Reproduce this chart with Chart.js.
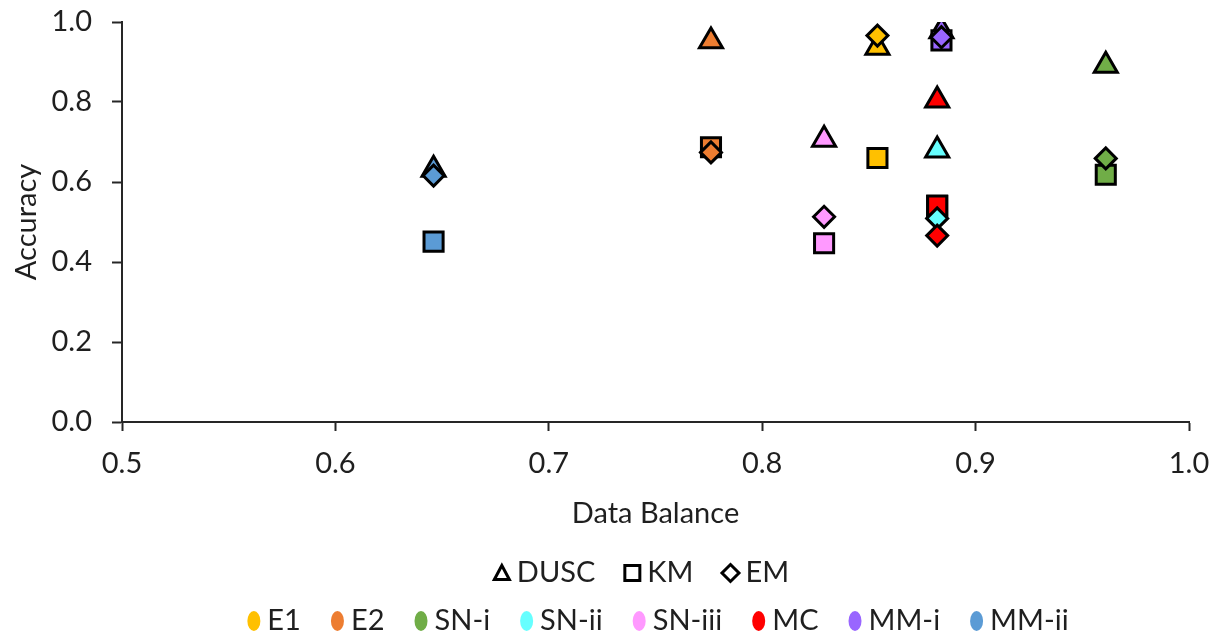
<!DOCTYPE html>
<html>
<head>
<meta charset="utf-8">
<script src="https://cdn.jsdelivr.net/npm/chart.js@4/dist/chart.umd.min.js"></script>
<style>
  html, body { margin: 0; padding: 0; background: #ffffff; }
  #wrap { width: 1218px; height: 635px; }
</style>
</head>
<body>
<div id="wrap"><canvas id="c" width="1218" height="635"></canvas></div>
<script>
// Datasets, their colours and data balance
const datasetNames  = ['E1', 'E2', 'SN-i', 'SN-ii', 'SN-iii', 'MC', 'MM-i', 'MM-ii'];
const datasetColors = ['#FFC000', '#ED7D31', '#70AD47', '#66FFFF', '#FF99FF', '#FF0000', '#9966FF', '#5B9BD5'];
const dataBalance   = [0.854, 0.776, 0.961, 0.882, 0.829, 0.882, 0.884, 0.646];

// Accuracy per method, in dataset order
const accDUSC = [0.936, 0.952, 0.891, 0.679, 0.706, 0.804, 0.977, 0.631];
const accKM   = [0.660, 0.687, 0.618, 0.540, 0.447, 0.541, 0.954, 0.451];
const accEM   = [0.966, 0.674, 0.659, 0.509, 0.513, 0.466, 0.962, 0.616];

const methodNames  = ['DUSC', 'KM', 'EM'];
const methodStyles = ['triangle', 'rect', 'rectRot'];
const methodRadius = [13.3, 13.5, 10.5];
const methodValues = [accDUSC, accKM, accEM];

// Axis tick values
const xTickValues = [0.5, 0.6, 0.7, 0.8, 0.9, 1.0];
const yTickValues = [0.0, 0.2, 0.4, 0.6, 0.8, 1.0];

const FONT = 'Lato';
const FSIZE = 29;
const TEXT = '#1f1f1f';
const AXIS = '#262626';

// Build one dataset per method/dataset pair; later entries should paint on top,
// and Chart.js paints the first dataset last, so the list is reversed.
const datasets = [];
methodNames.forEach((m, mi) => {
  datasetNames.forEach((d, di) => {
    datasets.push({
      label: m + ' ' + d,
      data: [{ x: dataBalance[di], y: methodValues[mi][di] }],
      pointStyle: methodStyles[mi],
      pointRadius: methodRadius[mi],
      backgroundColor: datasetColors[di],
      borderColor: '#000000',
      borderWidth: 3,
      showLine: false
    });
  });
});
datasets.reverse();

// Two-row legend: method shapes, then dataset colours
const legendPlugin = {
  id: 'twoRowLegend',
  afterDraw(chart) {
    const ctx = chart.ctx;
    ctx.save();
    ctx.font = FSIZE + 'px ' + FONT;
    ctx.textBaseline = 'middle';
    ctx.fillStyle = TEXT;

    // Row 1
    const r1y = 573, r1gap = 6, r1item = 28, r1icon = 18;
    let w1 = 0;
    methodNames.forEach((t, i) => {
      w1 += r1icon + r1gap + ctx.measureText(t).width + (i < methodNames.length - 1 ? r1item : 0);
    });
    let x = 641 - w1 / 2;
    methodNames.forEach((t, i) => {
      const cx = x + r1icon / 2;
      ctx.beginPath();
      ctx.lineWidth = 3;
      ctx.strokeStyle = '#000';
      ctx.lineJoin = 'miter';
      if (methodStyles[i] === 'triangle') {
        ctx.moveTo(cx, r1y - 7.5);
        ctx.lineTo(cx + 7.5, r1y + 6.5);
        ctx.lineTo(cx - 7.5, r1y + 6.5);
        ctx.closePath();
      } else if (methodStyles[i] === 'rect') {
        ctx.rect(cx - 7.5, r1y - 7.5, 15, 15);
      } else {
        ctx.moveTo(cx, r1y - 8.5);
        ctx.lineTo(cx + 8.5, r1y);
        ctx.lineTo(cx, r1y + 8.5);
        ctx.lineTo(cx - 8.5, r1y);
        ctx.closePath();
      }
      ctx.stroke();
      ctx.fillStyle = TEXT;
      ctx.textAlign = 'left';
      ctx.fillText(t, x + r1icon + r1gap, r1y);
      x += r1icon + r1gap + ctx.measureText(t).width + r1item;
    });

    // Row 2
    const r2y = 621, r2gap = 7, r2item = 30, r2icon = 13;
    let w2 = 0;
    datasetNames.forEach((t, i) => {
      w2 += r2icon + r2gap + ctx.measureText(t).width + (i < datasetNames.length - 1 ? r2item : 0);
    });
    x = 658 - w2 / 2;
    datasetNames.forEach((t, i) => {
      ctx.beginPath();
      ctx.fillStyle = datasetColors[i];
      ctx.ellipse(x + r2icon / 2, r2y, r2icon / 2, 10, 0, 0, Math.PI * 2);
      ctx.fill();
      ctx.fillStyle = TEXT;
      ctx.textAlign = 'left';
      ctx.fillText(t, x + r2icon + r2gap, r2y);
      x += r2icon + r2gap + ctx.measureText(t).width + r2item;
    });
    ctx.restore();
  }
};

const fmt = v => Number(v).toFixed(1);

new Chart(document.getElementById('c'), {
  type: 'scatter',
  data: { datasets },
  options: {
    responsive: false,
    animation: false,
    events: [],
    layout: { autoPadding: false, padding: { top: 22, right: 29, left: 0, bottom: 0 } },
    plugins: { legend: { display: false }, tooltip: { enabled: false } },
    scales: {
      x: {
        type: 'linear',
        min: 0.5, max: 1.0,
        afterBuildTicks: s => { s.ticks = xTickValues.map(v => ({ value: v })); },
        afterFit: s => { s.height = 213; s.paddingLeft = 0; s.paddingRight = 0; },
        grid: { drawOnChartArea: false, drawTicks: true, tickLength: 9, tickColor: AXIS, tickWidth: 2, color: AXIS },
        border: { display: true, color: AXIS, width: 2 },
        ticks: { font: { family: FONT, size: FSIZE }, color: TEXT, padding: 15, maxRotation: 0, callback: fmt },
        title: { display: true, text: 'Data Balance', font: { family: FONT, size: FSIZE }, color: TEXT,
                 padding: { top: 0, bottom: 104 } }
      },
      y: {
        type: 'linear',
        min: 0, max: 1.0,
        afterBuildTicks: s => { s.ticks = yTickValues.map(v => ({ value: v })); },
        afterFit: s => { s.width = 122; s.paddingTop = 0; s.paddingBottom = 0; },
        grid: { drawOnChartArea: false, drawTicks: true, tickLength: 10, tickColor: AXIS, tickWidth: 2, color: AXIS },
        border: { display: true, color: AXIS, width: 2 },
        ticks: { font: { family: FONT, size: FSIZE }, color: TEXT, padding: 20, callback: fmt },
        title: { display: true, text: 'Accuracy', font: { family: FONT, size: FSIZE }, color: TEXT,
                 padding: { top: 9, bottom: 0 } }
      }
    }
  },
  plugins: [legendPlugin]
});
</script>
</body>
</html>
